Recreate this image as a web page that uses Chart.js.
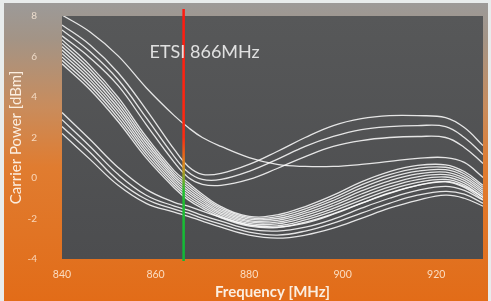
<!DOCTYPE html>
<html>
<head>
<meta charset="utf-8">
<script src="https://cdn.jsdelivr.net/npm/chart.js@4.4.1/dist/chart.umd.min.js"></script>
<style>
  html, body { margin: 0; padding: 0; background: #e8ecec; }
  #wrap { width: 491px; height: 301px; }
</style>
</head>
<body>
<div id="wrap"><canvas id="chart" width="491" height="301"></canvas></div>
<script>
// Frequenze di misura (MHz) e tick
const frequencies = [840, 846, 852, 858, 864, 867, 870, 874, 880, 886, 892, 898, 904, 910, 916, 922, 926, 930];
const xTicks = [840, 860, 880, 900, 920];
const yTicks = [8, 6, 4, 2, 0, -2, -4];
const etsiFrequency = 866;
const etsiLabel = "ETSI 866MHz";

// Curve alte (minimo vicino a 868 MHz, plateau a destra)
const upperSweep1 = [7.56, 6.57, 5.20, 3.38, 1.41, 0.57, 0.18, 0.23, 0.67, 1.31, 2.00, 2.59, 2.93, 3.08, 3.08, 2.98, 2.49, 1.60];
const upperSweep2 = [7.31, 6.23, 4.85, 2.98, 1.06, 0.28, -0.07, -0.07, 0.33, 0.92, 1.56, 2.05, 2.39, 2.54, 2.59, 2.54, 2.00, 1.16];
const upperSweep3 = [7.02, 5.93, 4.56, 2.64, 0.77, 0.03, -0.31, -0.36, -0.07, 0.47, 1.06, 1.56, 1.85, 2.00, 2.05, 2.00, 1.51, 0.72];
const upperSweep4 = [8.05, 7.21, 6.03, 4.46, 3.08, 2.49, 2.00, 1.56, 1.01, 0.67, 0.57, 0.57, 0.67, 0.82, 0.97, 1.01, 0.77, 0.03];

// Fascio centrale
const midSweep1 = [6.83, 5.55, 3.98, 2.04, 0.35, -0.24, -0.80, -1.41, -1.89, -1.82, -1.41, -0.85, -0.19, 0.32, 0.62, 0.65, 0.32, -0.36];
const midSweep2 = [6.66, 5.38, 3.81, 1.89, 0.23, -0.36, -0.90, -1.49, -1.96, -1.91, -1.52, -0.98, -0.34, 0.17, 0.48, 0.53, 0.21, -0.46];
const midSweep3 = [6.49, 5.21, 3.64, 1.74, 0.11, -0.48, -1.00, -1.57, -2.03, -2.00, -1.63, -1.11, -0.49, 0.02, 0.34, 0.41, 0.10, -0.56];
const midSweep4 = [6.32, 5.04, 3.47, 1.59, -0.01, -0.60, -1.10, -1.65, -2.10, -2.09, -1.74, -1.24, -0.64, -0.14, 0.20, 0.29, -0.01, -0.66];
const midSweep5 = [6.15, 4.87, 3.30, 1.44, -0.13, -0.72, -1.20, -1.73, -2.17, -2.18, -1.85, -1.37, -0.79, -0.29, 0.06, 0.17, -0.12, -0.76];
const midSweep6 = [5.98, 4.70, 3.13, 1.29, -0.25, -0.84, -1.30, -1.81, -2.24, -2.27, -1.96, -1.50, -0.94, -0.44, -0.08, 0.05, -0.23, -0.86];
const midSweep7 = [5.81, 4.53, 2.96, 1.14, -0.37, -0.96, -1.40, -1.89, -2.31, -2.36, -2.07, -1.63, -1.09, -0.59, -0.22, -0.07, -0.34, -0.96];
const midSweep8 = [5.64, 4.36, 2.79, 0.99, -0.49, -1.08, -1.50, -1.97, -2.38, -2.45, -2.18, -1.76, -1.24, -0.74, -0.36, -0.19, -0.46, -1.06];

// Curve basse (partono piu' in basso a sinistra)
const lowSweep1 = [3.23, 1.90, 0.52, -0.56, -1.20, -1.39, -1.64, -1.94, -2.33, -2.43, -2.23, -1.79, -1.25, -0.76, -0.36, -0.17, -0.41, -0.95];
const lowSweep2 = [2.88, 1.56, 0.18, -0.85, -1.39, -1.59, -1.84, -2.13, -2.53, -2.62, -2.43, -2.03, -1.49, -1.00, -0.61, -0.41, -0.61, -1.10];
const lowSweep3 = [2.54, 1.26, -0.12, -1.05, -1.54, -1.74, -1.99, -2.28, -2.67, -2.82, -2.62, -2.23, -1.74, -1.25, -0.85, -0.66, -0.80, -1.25];
const lowSweep4 = [2.20, 0.92, -0.36, -1.25, -1.69, -1.89, -2.13, -2.43, -2.82, -2.97, -2.82, -2.48, -1.99, -1.49, -1.10, -0.85, -1.00, -1.39];

const sweeps = [
  upperSweep1, upperSweep2, upperSweep3, upperSweep4,
  midSweep1, midSweep2, midSweep3, midSweep4, midSweep5, midSweep6, midSweep7, midSweep8,
  lowSweep1, lowSweep2, lowSweep3, lowSweep4,
];

const FONT = "Lato, 'Open Sans', sans-serif";

// Sfondo: cornice chiara, pannello grigio->arancio, area grafico scura
const backgroundPlugin = {
  id: "background",
  beforeDraw(chart) {
    const { ctx, chartArea: a, width, height } = chart;
    ctx.save();
    ctx.fillStyle = "#e8ecec";
    ctx.fillRect(0, 0, width, height);

    const g = ctx.createLinearGradient(0, 3, 0, height);
    g.addColorStop(0, "#9c9a98");
    g.addColorStop(0.12, "#a39486");
    g.addColorStop(0.35, "#c98c5c");
    g.addColorStop(0.55, "#e07c30");
    g.addColorStop(1, "#e26c18");
    ctx.fillStyle = g;
    ctx.fillRect(4, 3, width - 7, height - 3);

    const pg = ctx.createLinearGradient(0, a.top, 0, a.bottom);
    pg.addColorStop(0, "#575859");
    pg.addColorStop(1, "#4c4d4f");
    ctx.fillStyle = pg;
    ctx.fillRect(a.left, a.top, a.right - a.left, a.bottom - a.top);
    ctx.restore();
  },
};

// Etichetta ETSI vicino alla linea verticale
const etsiLabelPlugin = {
  id: "etsiLabel",
  afterDraw(chart) {
    const { ctx, scales } = chart;
    const x = scales.x.getPixelForValue(etsiFrequency);
    ctx.save();
    ctx.font = "18px " + FONT;
    ctx.fillStyle = "rgba(235,235,235,0.92)";
    ctx.textBaseline = "middle";
    ctx.fillText(etsiLabel, x - 34, scales.y.getPixelForValue(6.2));
    ctx.restore();
  },
};

const sweepDatasets = sweeps.map((values) => ({
  data: frequencies.map((f, i) => ({ x: f, y: values[i] })),
  borderColor: "rgba(255,255,255,0.85)",
  borderWidth: 1.3,
  pointRadius: 0,
  tension: 0.4,
}));

const etsiDataset = {
  data: [
    { x: etsiFrequency, y: 8.35 },
    { x: etsiFrequency, y: -4.1 },
  ],
  borderWidth: 2.5,
  pointRadius: 0,
  clip: false,
  borderColor: (context) => {
    const area = context.chart.chartArea;
    if (!area) return "#ff2010";
    const g = context.chart.ctx.createLinearGradient(0, area.top, 0, area.bottom);
    g.addColorStop(0, "#ff1a10");
    g.addColorStop(0.5, "#ff2a10");
    g.addColorStop(0.62, "#d89020");
    g.addColorStop(0.72, "#20c030");
    g.addColorStop(1, "#10b838");
    return g;
  },
};

new Chart(document.getElementById("chart"), {
  type: "line",
  data: { datasets: [etsiDataset, ...sweepDatasets] },
  options: {
    responsive: false,
    animation: false,
    layout: { padding: { left: 5, right: 8, top: 16, bottom: 0 } },
    plugins: { legend: { display: false }, tooltip: { enabled: false } },
    scales: {
      x: {
        type: "linear",
        min: 840,
        max: 930,
        grid: { display: false, drawTicks: false },
        border: { display: false },
        afterBuildTicks: (scale) => {
          scale.ticks = xTicks.map((v) => ({ value: v }));
        },
        afterFit: (scale) => {
          scale.height = 42;
          scale.paddingLeft = 0;
          scale.paddingRight = 0;
        },
        ticks: {
          padding: 9,
          color: "rgba(255,238,220,0.85)",
          font: { family: FONT, size: 10.5 },
          maxRotation: 0,
        },
        title: {
          display: true,
          text: "Frequency [MHz]",
          color: "#fbeee0",
          font: { family: FONT, size: 15, weight: "bold" },
          padding: { top: 0, bottom: 0 },
        },
      },
      y: {
        min: -4,
        max: 8,
        grid: { display: false, drawTicks: false },
        border: { display: false },
        afterBuildTicks: (scale) => {
          scale.ticks = yTicks.map((v) => ({ value: v }));
        },
        afterFit: (scale) => {
          scale.width = 57;
          scale.paddingTop = 0;
          scale.paddingBottom = 0;
        },
        ticks: {
          padding: 25,
          color: "rgba(255,238,220,0.8)",
          font: { family: FONT, size: 10 },
        },
        title: {
          display: true,
          text: "Carrier Power [dBm]",
          color: "#fbeee0",
          font: { family: FONT, size: 15 },
          padding: { top: 2, bottom: 0 },
        },
      },
    },
  },
  plugins: [backgroundPlugin, etsiLabelPlugin],
});
</script>
</body>
</html>
